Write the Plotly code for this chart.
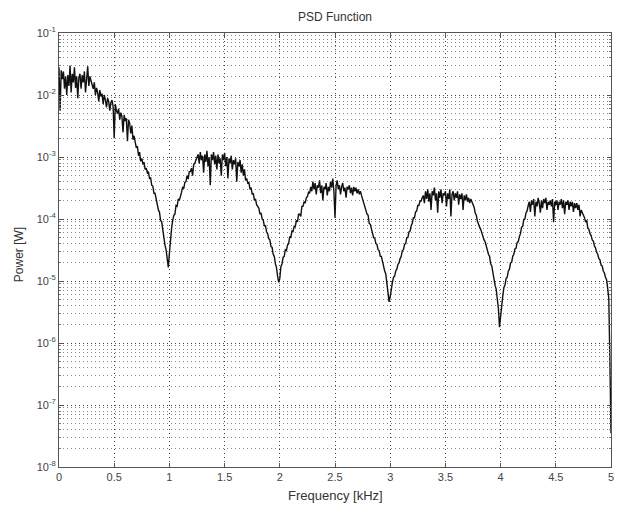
import plotly.graph_objects as go

# Frequency axis in kHz (step 0.01 kHz)
freq_khz = [round(i * 0.01, 2) for i in range(501)]

# PSD values [W]
power_w = [
    2.8e-2, 5.6e-3, 2.5e-2, 1.8e-2, 2.4e-2, 1.26e-2, 2.0e-2, 1.0e-2, 2.1e-2, 1.4e-2,
    3.0e-2, 1.1e-2, 2.2e-2, 1.6e-2, 2.8e-2, 1.3e-2, 2.0e-2, 8.9e-3, 1.9e-2, 2.2e-2,
    1.26e-2, 2.1e-2, 1.6e-2, 2.4e-2, 1.1e-2, 2.2e-2, 2.9e-2, 1.4e-2, 2.0e-2, 1.7e-2,
    1.5e-2, 1.26e-2, 1.6e-2, 1.0e-2, 1.3e-2, 1.1e-2, 7.9e-3, 1.2e-2, 9.5e-3, 1.05e-2,
    7.1e-3, 1.0e-2, 8.3e-3, 6.3e-3, 8.9e-3, 7.9e-3, 5.6e-3, 7.6e-3, 8.3e-3, 6.6e-3,
    2.0e-3, 7.1e-3, 5.6e-3, 5.0e-3, 6.0e-3, 4.0e-3, 5.2e-3, 4.5e-3, 2.5e-3, 4.8e-3,
    3.8e-3, 4.2e-3, 1.8e-3, 4.0e-3, 3.5e-3, 2.4e-3, 3.2e-3, 1.9e-3, 2.2e-3, 1.6e-3,
    1.4e-3, 1.5e-3, 1.05e-3, 1.2e-3, 8.5e-4, 9.5e-4, 7.6e-4, 8.3e-4, 6.3e-4, 6.6e-4,
    5.6e-4, 5.8e-4, 4.5e-4, 4.6e-4, 3.5e-4, 3.4e-4, 2.6e-4, 2.6e-4, 2.0e-4, 1.8e-4,
    1.4e-4, 1.3e-4, 9.5e-5, 9.0e-5, 6.3e-5, 5.5e-5, 3.8e-5, 3.2e-5, 2.2e-5, 1.66e-5,
    2.8e-5, 5.0e-5, 7.1e-5, 9.5e-5, 1.15e-4, 1.2e-4, 1.65e-4, 1.6e-4, 2.1e-4, 2.0e-4,
    2.5e-4, 2.7e-4, 3.3e-4, 3.1e-4, 3.9e-4, 4.0e-4, 5.0e-4, 4.4e-4, 5.8e-4, 5.8e-4,
    6.6e-4, 5.0e-4, 7.6e-4, 7.9e-4, 8.9e-4, 1.0e-3, 1.1e-3, 7.9e-4, 1.2e-3, 8.9e-4,
    1.05e-3, 5.6e-4, 1.1e-3, 8.3e-4, 1.26e-3, 7.1e-4, 1.0e-3, 3.5e-4, 1.1e-3, 8.9e-4,
    1.2e-3, 7.6e-4, 1.05e-3, 6.3e-4, 1.1e-3, 7.9e-4, 9.5e-4, 5.0e-4, 1.1e-3, 8.9e-4,
    1.17e-3, 7.1e-4, 1.0e-3, 4.5e-4, 9.5e-4, 7.9e-4, 1.05e-3, 6.3e-4, 8.9e-4, 7.6e-4,
    9.5e-4, 4.0e-4, 8.3e-4, 7.1e-4, 8.9e-4, 5.6e-4, 7.6e-4, 5.0e-4, 6.3e-4, 4.2e-4,
    4.5e-4, 3.8e-4, 3.9e-4, 3.0e-4, 3.2e-4, 2.5e-4, 2.6e-4, 2.0e-4, 2.1e-4, 1.7e-4,
    1.6e-4, 1.5e-4, 1.2e-4, 1.25e-4, 1.0e-4, 9.5e-5, 7.8e-5, 7.8e-5, 6.2e-5, 5.8e-5,
    4.8e-5, 4.6e-5, 3.6e-5, 3.5e-5, 2.7e-5, 2.5e-5, 1.9e-5, 1.65e-5, 1.2e-5, 9.5e-6,
    1.1e-5, 1.7e-5, 1.9e-5, 2.4e-5, 2.5e-5, 3.2e-5, 3.1e-5, 3.8e-5, 4.0e-5, 5.2e-5,
    5.0e-5, 6.4e-5, 6.3e-5, 7.6e-5, 7.5e-5, 9.5e-5, 9.0e-5, 1.2e-4, 1.2e-4, 1.1e-4,
    1.6e-4, 1.6e-4, 1.9e-4, 1.8e-4, 2.2e-4, 2.3e-4, 2.7e-4, 2.6e-4, 3.3e-4, 2.8e-4,
    4.0e-4, 3.0e-4, 3.8e-4, 2.5e-4, 3.5e-4, 3.2e-4, 4.2e-4, 2.6e-4, 3.5e-4, 2.0e-4,
    3.3e-4, 3.0e-4, 3.8e-4, 2.4e-4, 3.3e-4, 2.8e-4, 4.0e-4, 3.2e-4, 4.5e-4, 2.8e-4,
    1.05e-4, 3.5e-4, 4.2e-4, 3.0e-4, 3.5e-4, 2.5e-4, 3.3e-4, 3.8e-4, 2.8e-4, 3.2e-4,
    2.2e-4, 3.3e-4, 3.0e-4, 3.5e-4, 2.6e-4, 3.2e-4, 2.4e-4, 3.3e-4, 2.8e-4, 3.2e-4,
    2.6e-4, 3.0e-4, 2.5e-4, 2.8e-4, 2.4e-4, 2.1e-4, 1.95e-4, 1.55e-4, 1.45e-4, 1.2e-4,
    1.15e-4, 8.5e-5, 8.2e-5, 6.8e-5, 6.2e-5, 5.0e-5, 4.9e-5, 4.0e-5, 3.9e-5, 3.2e-5,
    3.1e-5, 2.5e-5, 2.5e-5, 2.0e-5, 1.85e-5, 1.45e-5, 1.3e-5, 9.5e-6, 7.3e-6, 4.6e-6,
    5.6e-6, 8.2e-6, 9.5e-6, 1.15e-5, 1.2e-5, 1.45e-5, 1.55e-5, 1.85e-5, 1.95e-5, 2.3e-5,
    2.5e-5, 3.1e-5, 3.2e-5, 3.9e-5, 4.0e-5, 5.0e-5, 5.0e-5, 6.2e-5, 6.4e-5, 7.8e-5,
    8.5e-5, 1.05e-4, 1.05e-4, 1.3e-4, 1.35e-4, 1.65e-4, 1.65e-4, 1.95e-4, 1.95e-4, 2.2e-4,
    2.4e-4, 1.8e-4, 2.8e-4, 2.1e-4, 3.0e-4, 1.9e-4, 2.6e-4, 1.4e-4, 2.8e-4, 2.4e-4,
    3.2e-4, 2.0e-4, 2.6e-4, 1.26e-4, 2.8e-4, 2.2e-4, 3.0e-4, 1.8e-4, 2.6e-4, 2.4e-4,
    2.8e-4, 1.6e-4, 2.6e-4, 2.1e-4, 3.0e-4, 1.1e-4, 2.5e-4, 2.8e-4, 2.0e-4, 2.6e-4,
    2.2e-4, 2.8e-4, 1.7e-4, 2.5e-4, 2.1e-4, 2.6e-4, 1.4e-4, 2.4e-4, 2.0e-4, 2.5e-4,
    1.9e-4, 2.2e-4, 1.8e-4, 2.1e-4, 1.9e-4, 1.7e-4, 1.55e-4, 1.25e-4, 1.15e-4, 9.2e-5,
    8.5e-5, 7.4e-5, 6.8e-5, 5.8e-5, 5.4e-5, 4.6e-5, 4.3e-5, 3.6e-5, 3.4e-5, 2.7e-5,
    2.5e-5, 1.9e-5, 1.75e-5, 1.35e-5, 1.15e-5, 8.5e-6, 7.4e-6, 5.0e-6, 3.6e-6, 1.8e-6,
    2.8e-6, 4.8e-6, 5.8e-6, 7.9e-6, 8.6e-6, 1.1e-5, 1.15e-5, 1.45e-5, 1.55e-5, 1.95e-5,
    2.0e-5, 2.5e-5, 2.7e-5, 3.3e-5, 3.4e-5, 4.2e-5, 4.3e-5, 5.2e-5, 5.8e-5, 7.4e-5,
    7.6e-5, 9.8e-5, 1.0e-4, 1.25e-4, 1.35e-4, 1.65e-4, 1.9e-4, 1.3e-4, 2.0e-4, 1.7e-4,
    2.1e-4, 1.1e-4, 1.9e-4, 1.6e-4, 2.2e-4, 1.8e-4, 1.26e-4, 2.0e-4, 1.5e-4, 2.1e-4,
    1.8e-4, 2.2e-4, 1.4e-4, 1.9e-4, 1.7e-4, 2.0e-4, 1.6e-4, 2.1e-4, 8.9e-5, 1.9e-4,
    1.7e-4, 2.0e-4, 1.4e-4, 1.9e-4, 1.7e-4, 2.1e-4, 1.5e-4, 2.0e-4, 1.2e-4, 1.9e-4,
    1.7e-4, 2.0e-4, 1.4e-4, 1.9e-4, 1.6e-4, 1.9e-4, 1.3e-4, 1.8e-4, 1.5e-4, 1.8e-4,
    1.4e-4, 1.7e-4, 1.1e-4, 1.4e-4, 1.26e-4, 1.2e-4, 1.05e-4, 8.9e-5, 9.5e-5, 7.1e-5,
    6.8e-5, 5.8e-5, 5.4e-5, 4.6e-5, 4.4e-5, 3.7e-5, 3.4e-5, 2.9e-5, 2.7e-5, 2.3e-5,
    2.2e-5, 1.8e-5, 1.75e-5, 1.45e-5, 1.35e-5, 1.15e-5, 1.05e-5, 7.6e-6, 5.2e-6, 5.0e-7,
    3.5e-8,
]

x_tick_vals = [0, 0.5, 1, 1.5, 2, 2.5, 3, 3.5, 4, 4.5, 5]
x_tick_text = ["0", "0.5", "1", "1.5", "2", "2.5", "3", "3.5", "4", "4.5", "5"]
y_tick_vals = [1e-8, 1e-7, 1e-6, 1e-5, 1e-4, 1e-3, 1e-2, 1e-1]
y_tick_text = ["10<sup>-8</sup>", "10<sup>-7</sup>", "10<sup>-6</sup>", "10<sup>-5</sup>",
               "10<sup>-4</sup>", "10<sup>-3</sup>", "10<sup>-2</sup>", "10<sup>-1</sup>"]

title_text = "PSD Function"
x_label = "Frequency [kHz]"
y_label = "Power [W]"

font_family = "Liberation Sans, Arial, sans-serif"
text_color = "#333333"

fig = go.Figure()
fig.add_trace(go.Scatter(
    x=freq_khz, y=power_w, mode="lines",
    line=dict(color="#111111", width=1.4),
    showlegend=False, hoverinfo="skip",
))

# The page body adds an 8px offset, so the figure is sized to fit the window.
fig.update_layout(
    width=618, height=498,
    margin=dict(l=51, r=15, t=25, b=39),
    paper_bgcolor="white", plot_bgcolor="white",
    font=dict(family=font_family, size=11, color=text_color),
    annotations=[
        dict(text=title_text, xref="paper", yref="paper", x=0.5, y=1.037,
             xanchor="center", yanchor="middle", showarrow=False,
             font=dict(size=12, color=text_color)),
        dict(text=x_label, xref="paper", yref="paper", x=0.5, y=-0.065,
             xanchor="center", yanchor="middle", showarrow=False,
             font=dict(size=13, color=text_color)),
        dict(text=y_label, xref="paper", yref="paper", x=-0.071, y=0.49,
             xanchor="center", yanchor="middle", showarrow=False, textangle=-90,
             font=dict(size=12, color=text_color)),
    ],
)

fig.update_xaxes(
    range=[0, 5], tickvals=x_tick_vals, ticktext=x_tick_text, automargin=False,
    showline=True, linecolor="#555555", linewidth=1, mirror="ticks",
    ticks="inside", ticklen=4, tickcolor="#555555",
    showgrid=True, gridcolor="#444444", gridwidth=1, griddash="1px,3px",
    zeroline=False,
    tickfont=dict(size=11, color="#444444"),
)

fig.update_yaxes(
    type="log", range=[-8, -1], tickvals=y_tick_vals, ticktext=y_tick_text, automargin=False,
    showline=True, linecolor="#555555", linewidth=1, mirror="ticks",
    ticks="inside", ticklen=4, tickcolor="#555555",
    showgrid=True, gridcolor="#444444", gridwidth=1, griddash="1px,3px",
    minor=dict(dtick="D1", showgrid=True, gridcolor="#888888", gridwidth=1,
               griddash="1px,3px", ticks="inside", ticklen=2, tickcolor="#777777"),
    zeroline=False,
    tickfont=dict(size=11, color="#444444"),
)

fig.write_html("out.html")
